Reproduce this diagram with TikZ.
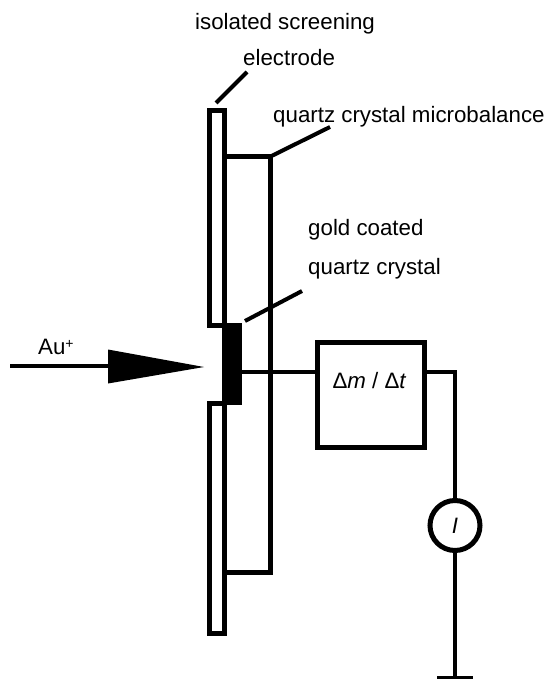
\documentclass[tikz,border=0pt]{standalone}
\usepackage{fontspec}
\setmainfont{Liberation Sans}
\usetikzlibrary{positioning, arrows.meta}

\begin{document}
\begin{tikzpicture}[
        x=1pt, y=-1pt,
        lbl/.style={font=\fontsize{22.3}{26}\selectfont, inner sep=0pt, anchor=base west},
        wire/.style={line width=4.5pt},
        leader/.style={line width=4pt},
        electrode/.style={rectangle, draw=black, line width=5pt, fill=white, minimum width=15pt, inner sep=0pt},
        crystal/.style={rectangle, fill=black, minimum width=20pt, minimum height=82pt, inner sep=0pt},
        meter/.style={circle, draw=black, line width=5pt, fill=white, minimum size=50pt, inner sep=0pt}
    ]
        \useasboundingbox (0,0) rectangle (545,679);

        % --- Labels ---
        \node[lbl] (lblScreen) at (195,30) {isolated screening};
        \node[lbl] (lblElec) at (243,66) {electrode};
        \node[lbl] (lblQcm) at (273,123) {quartz crystal microbalance};
        \node[lbl] (lblGold) at (308,235.5) {gold coated};
        \node[lbl] (lblQuartz) at (308,274) {quartz crystal};
        \node[lbl] (lblAu) at (38,354) {Au\raisebox{6pt}{\fontsize{14}{14}\selectfont +}};

        % --- Microbalance body ---
        \coordinate (qcmTop) at (224,156.5);
        \coordinate (qcmBot) at (224,572);
        \coordinate (qcmTopR) at (270.5,156.5);
        \coordinate (qcmBotR) at (270.5,572);
        \draw[line width=5pt] (qcmTop) -- (qcmTopR) -- (qcmBotR) -- (qcmBot);

        % --- Screening electrode, two halves ---
        \node[electrode, minimum height=215pt] (elecUp) at (217,218) {};
        \node[electrode, minimum height=230.5pt] (elecLow) at (217,518.7) {};

        % --- Wires and meters ---
        \node[crystal] (gold) at (232,364) {};
        \node[rectangle, draw=black, line width=5pt, minimum width=106.5pt, minimum height=105pt, inner sep=0pt] (rate) at (371,395) {};
        \node[font=\fontsize{22.3}{26}\selectfont, inner sep=0pt, anchor=base] (rateText) at (369.5,388) {Δ\textit{m} / Δ\textit{t}};
        \node[meter] (ammeter) at (455,525.5) {\fontsize{22.3}{26}\selectfont\textit{I}};
        \coordinate (bend) at (455,372);
        \coordinate (gnd) at (455,677);
        \coordinate (gndL) at (437,677.5);
        \coordinate (gndR) at (473,677.5);

        \draw[wire] (gold.east |- bend) -- (rate.west |- bend);
        \draw[wire] (rate.east |- bend) -- (bend) -- (ammeter.north);
        \draw[wire] (ammeter.south) -- (gnd);
        \draw[line width=3pt] (gndL) -- (gndR);

        % --- Ion beam ---
        \coordinate (beamStart) at (10,366);
        \coordinate (beamA) at (108,349.5);
        \coordinate (beamB) at (108,383.5);
        \coordinate (beamTip) at (204,367);
        \draw[line width=4pt] (beamStart) -- (108,366);
        \fill (beamA) -- (beamTip) -- (beamB) -- cycle;

        % --- Leader lines ---
        \coordinate (leadElec) at (247,72);
        \coordinate (leadElecEnd) at (216,103);
        \coordinate (leadQcm) at (330,127);
        \coordinate (leadGold) at (302,291);
        \coordinate (leadGoldEnd) at (245,321);
        \draw[leader] (leadElec) -- (leadElecEnd);
        \draw[leader] (leadQcm) -- (qcmTopR);
        \draw[leader] (leadGold) -- (leadGoldEnd);
\end{tikzpicture}
\end{document}
